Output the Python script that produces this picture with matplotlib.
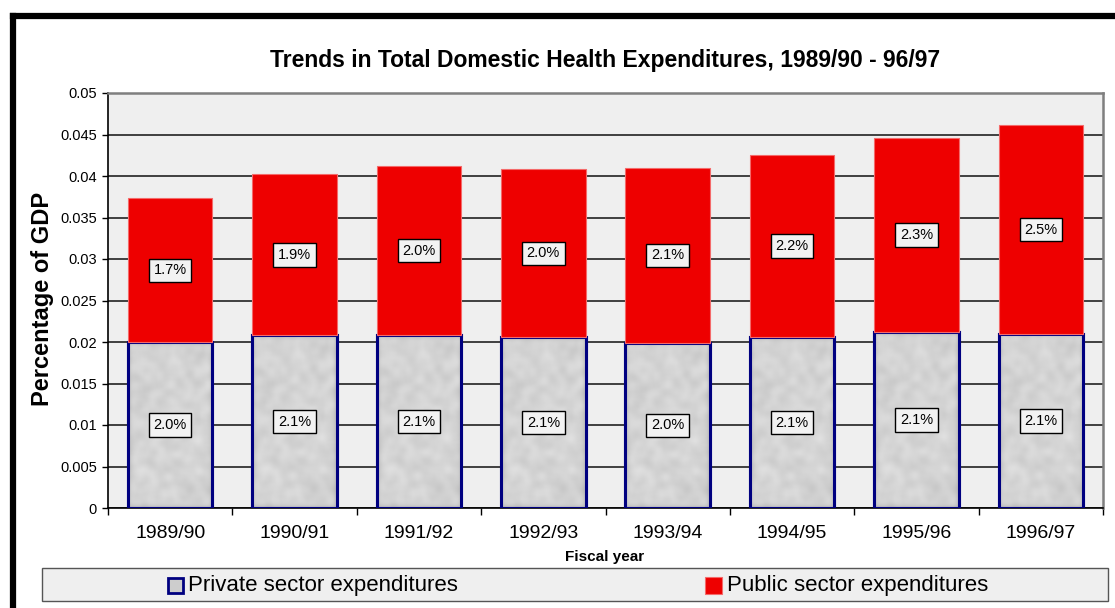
import numpy as np
import matplotlib
matplotlib.use("Agg")
import matplotlib.pyplot as plt
from matplotlib.patches import Rectangle
from matplotlib.lines import Line2D

# Health expenditure shares of GDP by fiscal year
years = ['1989/90', '1990/91', '1991/92', '1992/93',
         '1993/94', '1994/95', '1995/96', '1996/97']
private = [0.0200, 0.0208, 0.0208, 0.0206, 0.0199, 0.0206, 0.0212, 0.0210]
public = [0.0173, 0.0194, 0.0204, 0.0202, 0.0211, 0.0219, 0.0234, 0.0251]

plt.rcParams['font.family'] = ['Liberation Sans', 'DejaVu Sans']

W, H = 1115, 608
fig = plt.figure(figsize=(W / 100, H / 100), dpi=100)
fig.patch.set_facecolor('white')


def fx(px):
    return px / W


def fy(py):
    return 1 - py / H


ax = fig.add_axes([fx(108), fy(508), fx(1103) - fx(108), fy(93) - fy(508)])
ax.set_facecolor('#efefef')

x = np.arange(len(years))
width = 0.68

# granite-like fill for the private sector bars
rng = np.random.default_rng(3)
noise = rng.random((120, 60))
k = np.ones(5) / 5
for _ in range(2):
    noise = np.apply_along_axis(lambda r: np.convolve(r, k, mode='same'), 0, noise)
    noise = np.apply_along_axis(lambda r: np.convolve(r, k, mode='same'), 1, noise)
noise = (noise - noise.min()) / (noise.max() - noise.min())
grain = 0.70 + 0.18 * noise
texture = np.dstack([grain, grain, grain])

priv_bars = ax.bar(x, private, width, color='#cdcdcd', edgecolor='#000080',
                   linewidth=2.2, zorder=3)
for b in priv_bars:
    im = ax.imshow(texture, extent=(b.get_x(), b.get_x() + b.get_width(), 0, b.get_height()),
                   aspect='auto', interpolation='bicubic', zorder=3.5)
    im.set_clip_path(b)
# redraw outline on top of the texture
ax.bar(x, private, width, color='none', edgecolor='#000080', linewidth=2.2, zorder=4)

pub_bars = ax.bar(x, public, width, bottom=private, color='#ee0000',
                  edgecolor='#f46a6a', linewidth=0.8, zorder=5)

box = dict(boxstyle='square,pad=0.32', facecolor='#f2f2f2', edgecolor='black', linewidth=1)
for i in range(len(years)):
    ax.text(x[i], private[i] / 2, f'{private[i] * 100:.1f}%', ha='center', va='center',
            fontsize=10.5, bbox=box, zorder=6)
    ax.text(x[i], private[i] + public[i] / 2, f'{public[i] * 100:.1f}%', ha='center',
            va='center', fontsize=10.5, bbox=box, zorder=6)

ax.set_xlim(-0.5, len(years) - 0.5)
ax.set_ylim(0, 0.05)
ax.set_yticks(np.arange(0, 0.0501, 0.005))
ax.set_yticklabels(['0', '0.005', '0.01', '0.015', '0.02', '0.025', '0.03', '0.035',
                    '0.04', '0.045', '0.05'])
ax.yaxis.grid(True, color='#222222', linewidth=1.2, zorder=1)
ax.set_axisbelow(True)
ax.tick_params(axis='y', labelsize=10.5, length=4, width=1, pad=4, direction='out')

ax.set_xticks(x)
ax.set_xticklabels(years, fontsize=14)
ax.set_xticks(np.arange(-0.5, len(years)), minor=True)
ax.tick_params(axis='x', which='major', length=0, pad=12)
ax.tick_params(axis='x', which='minor', length=5, width=1)

for side in ('left', 'bottom'):
    ax.spines[side].set_color('black')
    ax.spines[side].set_linewidth(1.2)
for side in ('top', 'right'):
    ax.spines[side].set_color('#7f7f7f')
    ax.spines[side].set_linewidth(1.8)

fig.text(fx(605), fy(60), 'Trends in Total Domestic Health Expenditures, 1989/90 - 96/97',
         ha='center', va='center', fontsize=16.5, fontweight='bold')
fig.text(fx(43), fy(299), 'Percentage of GDP', rotation=90, ha='center', va='center',
         fontsize=17, fontweight='bold')
fig.text(fx(605), fy(557), 'Fiscal year', ha='center', va='center',
         fontsize=11, fontweight='bold')

# legend strip under the chart
fig.patches.append(Rectangle((fx(42), fy(601)), fx(1108) - fx(42), fy(568) - fy(601),
                             transform=fig.transFigure, facecolor='#efefef',
                             edgecolor='#555555', linewidth=1))
fig.patches.append(Rectangle((fx(168), fy(593)), fx(15), fy(578) - fy(593),
                             transform=fig.transFigure, facecolor='#cdcdcd',
                             edgecolor='#000080', linewidth=2))
fig.text(fx(188), fy(585), 'Private sector expenditures', ha='left', va='center', fontsize=16)
fig.patches.append(Rectangle((fx(705), fy(594)), fx(17), fy(577) - fy(594),
                             transform=fig.transFigure, facecolor='#ee0000',
                             edgecolor='#f46a6a', linewidth=0.8))
fig.text(fx(727), fy(585), 'Public sector expenditures', ha='left', va='center', fontsize=16)

# heavy frame on the left and top edges
fig.add_artist(Line2D([fx(13), fx(13)], [0, fy(16)], color='black', linewidth=4.5,
                      solid_capstyle='projecting'))
fig.add_artist(Line2D([fx(13), 1], [fy(16), fy(16)], color='black', linewidth=4.5,
                      solid_capstyle='projecting'))

fig.savefig('out.png', dpi=100)
